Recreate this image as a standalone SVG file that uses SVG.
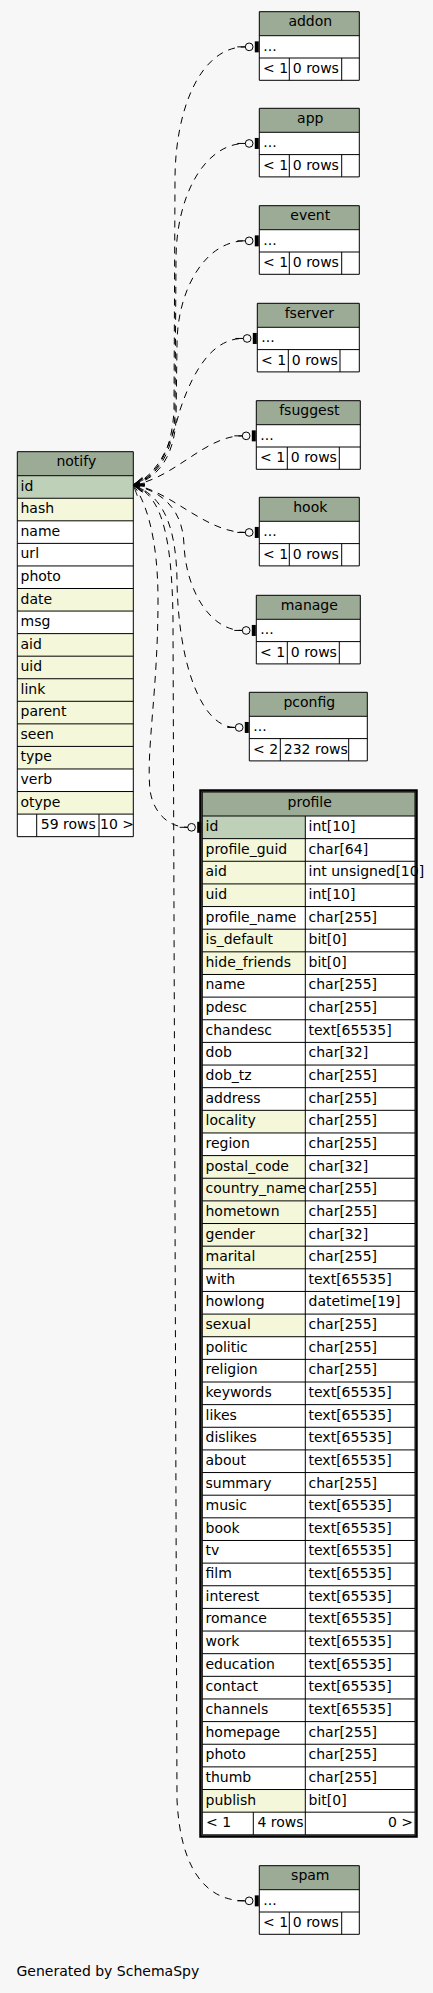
<svg xmlns="http://www.w3.org/2000/svg" width="433" height="1993" viewBox="0 0 433 1993">
<style>
text{font-family:"DejaVu Sans","Liberation Sans",sans-serif;font-size:14px;fill:#000}
.c{text-anchor:middle}
.e{text-anchor:end}
.hd{fill:#9bab96}
.pk{fill:#bed1b8}
.ix{fill:#f4f7da}
.bd{fill:#ffffff}
.ln{fill:none;stroke:#000;stroke-width:1}
.edge{fill:none;stroke:#000;stroke-width:1;stroke-dasharray:7,6;marker-start:url(#crow);marker-end:url(#tee)}
</style>
<defs>
<marker id="tee" markerUnits="userSpaceOnUse" viewBox="0 0 20 20" markerWidth="20" markerHeight="20" refX="0" refY="10" orient="auto" overflow="visible">
<path d="M-8,10H0" fill="none" stroke="#000" stroke-width="1"/>
<circle cx="3.85" cy="10" r="3.85" fill="none" stroke="#000" stroke-width="1"/>
<rect x="9.5" y="4.5" width="4" height="11" fill="#000"/>
</marker>
<marker id="crow" markerUnits="userSpaceOnUse" viewBox="0 0 20 20" markerWidth="20" markerHeight="20" refX="0" refY="10" orient="auto" overflow="visible">
<path d="M11,6.5L0,10L11,13.5" fill="none" stroke="#000" stroke-width="0.8"/>
</marker>
</defs>
<rect width="433" height="1993" fill="#f7f7f7"/>

<g id="notify">
<rect class="hd" x="17.3" y="451.7" width="116" height="24"/>
<rect class="pk" x="17.3" y="475.7" width="116" height="22.56"/>
<rect class="ix" x="17.3" y="498.26" width="116" height="22.56"/>
<rect class="bd" x="17.3" y="520.82" width="116" height="67.68"/>
<rect class="ix" x="17.3" y="588.5" width="116" height="22.56"/>
<rect class="bd" x="17.3" y="611.06" width="116" height="22.56"/>
<rect class="ix" x="17.3" y="633.62" width="116" height="135.36"/>
<rect class="bd" x="17.3" y="768.98" width="116" height="22.56"/>
<rect class="ix" x="17.3" y="791.54" width="116" height="22.56"/>
<rect class="bd" x="17.3" y="814.1" width="116" height="22.56"/>
<path class="ln" d="M17.3,451.7H133.3V836.66H17.3ZM17.3,475.7H133.3M17.3,498.26H133.3M17.3,520.82H133.3M17.3,543.38H133.3M17.3,565.94H133.3M17.3,588.5H133.3M17.3,611.06H133.3M17.3,633.62H133.3M17.3,656.18H133.3M17.3,678.74H133.3M17.3,701.3H133.3M17.3,723.86H133.3M17.3,746.42H133.3M17.3,768.98H133.3M17.3,791.54H133.3M17.3,814.1H133.3M36.7,814.1V836.66M99,814.1V836.66"/>
<text class="c" x="76.3" y="466.4">notify</text>
<text x="20.5" y="490.7">id</text>
<text x="20.5" y="513.26">hash</text>
<text x="20.5" y="535.82">name</text>
<text x="20.5" y="558.38">url</text>
<text x="20.5" y="580.94">photo</text>
<text x="20.5" y="603.5">date</text>
<text x="20.5" y="626.06">msg</text>
<text x="20.5" y="648.62">aid</text>
<text x="20.5" y="671.18">uid</text>
<text x="20.5" y="693.74">link</text>
<text x="20.5" y="716.3">parent</text>
<text x="20.5" y="738.86">seen</text>
<text x="20.5" y="761.42">type</text>
<text x="20.5" y="783.98">verb</text>
<text x="20.5" y="806.54">otype</text>
<text x="40.8" y="829.1">59 rows</text>
<text x="100" y="829.1">10 &gt;</text>
</g>

<g id="addon">
<rect class="hd" x="259.3" y="11.7" width="100" height="24"/>
<rect class="bd" x="259.3" y="35.7" width="100" height="44.6"/>
<path class="ln" d="M259.3,11.7H359.3V80.3H259.3ZM259.3,35.7H359.3M259.3,58H359.3M289.3,58V80.3M341.7,58V80.3"/>
<text class="c" x="310.3" y="26.4">addon</text>
<text x="263.3" y="50.7">...</text>
<text x="263" y="73">&lt; 1</text>
<text x="292.8" y="73">0 rows</text>
</g>

<g id="app">
<rect class="hd" x="259.3" y="108.3" width="100" height="24"/>
<rect class="bd" x="259.3" y="132.3" width="100" height="44.6"/>
<path class="ln" d="M259.3,108.3H359.3V176.9H259.3ZM259.3,132.3H359.3M259.3,154.6H359.3M289.3,154.6V176.9M341.7,154.6V176.9"/>
<text class="c" x="310.3" y="123">app</text>
<text x="263.3" y="147.3">...</text>
<text x="263" y="169.6">&lt; 1</text>
<text x="292.8" y="169.6">0 rows</text>
</g>

<g id="event">
<rect class="hd" x="259.3" y="205.7" width="100" height="24"/>
<rect class="bd" x="259.3" y="229.7" width="100" height="44.6"/>
<path class="ln" d="M259.3,205.7H359.3V274.3H259.3ZM259.3,229.7H359.3M259.3,252H359.3M289.3,252V274.3M341.7,252V274.3"/>
<text class="c" x="310.3" y="220.4">event</text>
<text x="263.3" y="244.7">...</text>
<text x="263" y="267">&lt; 1</text>
<text x="292.8" y="267">0 rows</text>
</g>

<g id="fserver">
<rect class="hd" x="257.3" y="303.3" width="102" height="24"/>
<rect class="bd" x="257.3" y="327.3" width="102" height="44.6"/>
<path class="ln" d="M257.3,303.3H359.3V371.9H257.3ZM257.3,327.3H359.3M257.3,349.6H359.3M288.3,349.6V371.9M340,349.6V371.9"/>
<text class="c" x="309.3" y="318">fserver</text>
<text x="261.3" y="342.3">...</text>
<text x="261" y="364.6">&lt; 1</text>
<text x="291.8" y="364.6">0 rows</text>
</g>

<g id="fsuggest">
<rect class="hd" x="256.3" y="400.7" width="104" height="24"/>
<rect class="bd" x="256.3" y="424.7" width="104" height="44.6"/>
<path class="ln" d="M256.3,400.7H360.3V469.3H256.3ZM256.3,424.7H360.3M256.3,447H360.3M287.3,447V469.3M339.3,447V469.3"/>
<text class="c" x="309.3" y="415.4">fsuggest</text>
<text x="260.3" y="439.7">...</text>
<text x="260" y="462">&lt; 1</text>
<text x="290.8" y="462">0 rows</text>
</g>

<g id="hook">
<rect class="hd" x="259.3" y="497.3" width="100" height="24"/>
<rect class="bd" x="259.3" y="521.3" width="100" height="44.6"/>
<path class="ln" d="M259.3,497.3H359.3V565.9H259.3ZM259.3,521.3H359.3M259.3,543.6H359.3M289.3,543.6V565.9M341.7,543.6V565.9"/>
<text class="c" x="310.3" y="512">hook</text>
<text x="263.3" y="536.3">...</text>
<text x="263" y="558.6">&lt; 1</text>
<text x="292.8" y="558.6">0 rows</text>
</g>

<g id="manage">
<rect class="hd" x="256.3" y="595.3" width="104" height="24"/>
<rect class="bd" x="256.3" y="619.3" width="104" height="44.6"/>
<path class="ln" d="M256.3,595.3H360.3V663.9H256.3ZM256.3,619.3H360.3M256.3,641.6H360.3M287.3,641.6V663.9M339.3,641.6V663.9"/>
<text class="c" x="309.3" y="610">manage</text>
<text x="260.3" y="634.3">...</text>
<text x="260" y="656.6">&lt; 1</text>
<text x="290.8" y="656.6">0 rows</text>
</g>

<g id="pconfig">
<rect class="hd" x="249.3" y="692.3" width="118" height="24"/>
<rect class="bd" x="249.3" y="716.3" width="118" height="44.6"/>
<path class="ln" d="M249.3,692.3H367.3V760.9H249.3ZM249.3,716.3H367.3M249.3,738.6H367.3M280.3,738.6V760.9M348.7,738.6V760.9"/>
<text class="c" x="309.3" y="707">pconfig</text>
<text x="253.3" y="731.3">...</text>
<text x="253" y="753.6">&lt; 2</text>
<text x="283.8" y="753.6">232 rows</text>
</g>

<g id="profile">
<rect class="hd" x="202.3" y="792" width="212.7" height="24"/>
<rect class="bd" x="202.3" y="816" width="212.7" height="1018.8"/>
<rect class="pk" x="202.3" y="816" width="103" height="22.64"/>
<rect class="ix" x="202.3" y="838.64" width="103" height="67.92"/>
<rect class="ix" x="202.3" y="929.2" width="103" height="45.28"/>
<rect class="ix" x="202.3" y="1110.32" width="103" height="22.64"/>
<rect class="ix" x="202.3" y="1155.6" width="103" height="113.2"/>
<rect class="ix" x="202.3" y="1314.08" width="103" height="22.64"/>
<rect class="ix" x="202.3" y="1789.52" width="103" height="22.64"/>
<path class="ln" d="M202.3,792H415V1834.8H202.3ZM202.3,816H415M202.3,838.64H415M202.3,861.28H415M202.3,883.92H415M202.3,906.56H415M202.3,929.2H415M202.3,951.84H415M202.3,974.48H415M202.3,997.12H415M202.3,1019.76H415M202.3,1042.4H415M202.3,1065.04H415M202.3,1087.68H415M202.3,1110.32H415M202.3,1132.96H415M202.3,1155.6H415M202.3,1178.24H415M202.3,1200.88H415M202.3,1223.52H415M202.3,1246.16H415M202.3,1268.8H415M202.3,1291.44H415M202.3,1314.08H415M202.3,1336.72H415M202.3,1359.36H415M202.3,1382H415M202.3,1404.64H415M202.3,1427.28H415M202.3,1449.92H415M202.3,1472.56H415M202.3,1495.2H415M202.3,1517.84H415M202.3,1540.48H415M202.3,1563.12H415M202.3,1585.76H415M202.3,1608.4H415M202.3,1631.04H415M202.3,1653.68H415M202.3,1676.32H415M202.3,1698.96H415M202.3,1721.6H415M202.3,1744.24H415M202.3,1766.88H415M202.3,1789.52H415M202.3,1812.16H415M305.3,816V1834.8M253.3,1812.16V1834.8"/>
<rect x="200.5" y="790.5" width="216" height="1046" fill="none" stroke="#000" stroke-width="2.5"/>
<text class="c" x="309.7" y="806.7">profile</text>
<text x="205.5" y="831">id</text><text x="308.5" y="831">int[10]</text>
<text x="205.5" y="853.64">profile_guid</text><text x="308.5" y="853.64">char[64]</text>
<text x="205.5" y="876.28">aid</text><text x="308.5" y="876.28">int unsigned[10]</text>
<text x="205.5" y="898.92">uid</text><text x="308.5" y="898.92">int[10]</text>
<text x="205.5" y="921.56">profile_name</text><text x="308.5" y="921.56">char[255]</text>
<text x="205.5" y="944.2">is_default</text><text x="308.5" y="944.2">bit[0]</text>
<text x="205.5" y="966.84">hide_friends</text><text x="308.5" y="966.84">bit[0]</text>
<text x="205.5" y="989.48">name</text><text x="308.5" y="989.48">char[255]</text>
<text x="205.5" y="1012.12">pdesc</text><text x="308.5" y="1012.12">char[255]</text>
<text x="205.5" y="1034.76">chandesc</text><text x="308.5" y="1034.76">text[65535]</text>
<text x="205.5" y="1057.4">dob</text><text x="308.5" y="1057.4">char[32]</text>
<text x="205.5" y="1080.04">dob_tz</text><text x="308.5" y="1080.04">char[255]</text>
<text x="205.5" y="1102.68">address</text><text x="308.5" y="1102.68">char[255]</text>
<text x="205.5" y="1125.32">locality</text><text x="308.5" y="1125.32">char[255]</text>
<text x="205.5" y="1147.96">region</text><text x="308.5" y="1147.96">char[255]</text>
<text x="205.5" y="1170.6">postal_code</text><text x="308.5" y="1170.6">char[32]</text>
<text x="205.5" y="1193.24">country_name</text><text x="308.5" y="1193.24">char[255]</text>
<text x="205.5" y="1215.88">hometown</text><text x="308.5" y="1215.88">char[255]</text>
<text x="205.5" y="1238.52">gender</text><text x="308.5" y="1238.52">char[32]</text>
<text x="205.5" y="1261.16">marital</text><text x="308.5" y="1261.16">char[255]</text>
<text x="205.5" y="1283.8">with</text><text x="308.5" y="1283.8">text[65535]</text>
<text x="205.5" y="1306.44">howlong</text><text x="308.5" y="1306.44">datetime[19]</text>
<text x="205.5" y="1329.08">sexual</text><text x="308.5" y="1329.08">char[255]</text>
<text x="205.5" y="1351.72">politic</text><text x="308.5" y="1351.72">char[255]</text>
<text x="205.5" y="1374.36">religion</text><text x="308.5" y="1374.36">char[255]</text>
<text x="205.5" y="1397">keywords</text><text x="308.5" y="1397">text[65535]</text>
<text x="205.5" y="1419.64">likes</text><text x="308.5" y="1419.64">text[65535]</text>
<text x="205.5" y="1442.28">dislikes</text><text x="308.5" y="1442.28">text[65535]</text>
<text x="205.5" y="1464.92">about</text><text x="308.5" y="1464.92">text[65535]</text>
<text x="205.5" y="1487.56">summary</text><text x="308.5" y="1487.56">char[255]</text>
<text x="205.5" y="1510.2">music</text><text x="308.5" y="1510.2">text[65535]</text>
<text x="205.5" y="1532.84">book</text><text x="308.5" y="1532.84">text[65535]</text>
<text x="205.5" y="1555.48">tv</text><text x="308.5" y="1555.48">text[65535]</text>
<text x="205.5" y="1578.12">film</text><text x="308.5" y="1578.12">text[65535]</text>
<text x="205.5" y="1600.76">interest</text><text x="308.5" y="1600.76">text[65535]</text>
<text x="205.5" y="1623.4">romance</text><text x="308.5" y="1623.4">text[65535]</text>
<text x="205.5" y="1646.04">work</text><text x="308.5" y="1646.04">text[65535]</text>
<text x="205.5" y="1668.68">education</text><text x="308.5" y="1668.68">text[65535]</text>
<text x="205.5" y="1691.32">contact</text><text x="308.5" y="1691.32">text[65535]</text>
<text x="205.5" y="1713.96">channels</text><text x="308.5" y="1713.96">text[65535]</text>
<text x="205.5" y="1736.6">homepage</text><text x="308.5" y="1736.6">char[255]</text>
<text x="205.5" y="1759.24">photo</text><text x="308.5" y="1759.24">char[255]</text>
<text x="205.5" y="1781.88">thumb</text><text x="308.5" y="1781.88">char[255]</text>
<text x="205.5" y="1804.52">publish</text><text x="308.5" y="1804.52">bit[0]</text>
<text x="206" y="1827.16">&lt; 1</text>
<text x="257.5" y="1827.16">4 rows</text>
<text class="e" x="413" y="1827.16">0 &gt;</text>
</g>

<g id="spam">
<rect class="hd" x="259.3" y="1865.7" width="100" height="24"/>
<rect class="bd" x="259.3" y="1889.7" width="100" height="44.6"/>
<path class="ln" d="M259.3,1865.7H359.3V1934.3H259.3ZM259.3,1889.7H359.3M259.3,1912H359.3M289.3,1912V1934.3M341.7,1912V1934.3"/>
<text class="c" x="310.3" y="1880.4">spam</text>
<text x="263.3" y="1904.7">...</text>
<text x="263" y="1927">&lt; 1</text>
<text x="292.8" y="1927">0 rows</text>
</g>

<g id="connectors">
<path class="edge" d="M133.3,485C158,476 172,450 174,410L175,180C175,110 200,46.85 245.3,46.85"/>
<path class="edge" d="M133.3,485C158,477 173,452 175,415L176,260C176,195 205,143.45 245.3,143.45"/>
<path class="edge" d="M133.3,485C159,478 174,455 176,420L177,345C177,290 205,240.85 245.3,240.85"/>
<path class="edge" d="M133.3,485C160,474 172,440 180,410C195,365 215,338.45 243.3,338.45"/>
<path class="edge" d="M133.3,485C175,478 205,435.85 242.3,435.85"/>
<path class="edge" d="M133.3,485C170,490 205,532.45 245.3,532.45"/>
<path class="edge" d="M133.3,485C165,492 183,512 184,545C186,590 210,630.45 242.3,630.45"/>
<path class="edge" d="M133.3,485C160,495 176,520 177,580C178,660 200,727.45 235.3,727.45"/>
<path class="edge" d="M133.3,485C145,500 158,535 158,600C158,690 146,750 150,790C153,812 168,827.3 187.7,827.3"/>
<path class="edge" d="M133.3,485C160,495 172,530 173,620L177,1800C180,1860 200,1900.85 245.3,1900.85"/>
</g>

<text x="16.5" y="1976">Generated by SchemaSpy</text>
</svg>
